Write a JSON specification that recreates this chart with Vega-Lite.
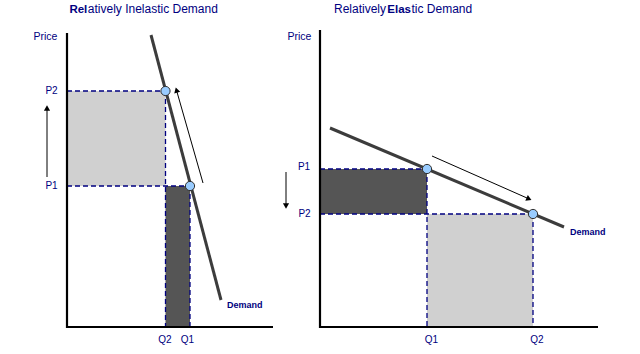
{
  "$schema": "https://vega.github.io/schema/vega-lite/v6.json",
  "width": 640,
  "height": 354,
  "autosize": {"type": "fit", "contains": "padding"},
  "padding": 0,
  "background": "white",
  "config": {"view": {"stroke": null}},
  "datasets": {
    "areas": [
      {"panel": "inelastic", "tone": "light", "x": 67, "x2": 165.5, "y": 168, "y2": 263},
      {"panel": "inelastic", "tone": "dark", "x": 165.5, "x2": 190, "y": 27, "y2": 168},
      {"panel": "elastic", "tone": "dark", "x": 320, "x2": 427, "y": 140, "y2": 185},
      {"panel": "elastic", "tone": "light", "x": 427, "x2": 533, "y": 27, "y2": 140}
    ],
    "segments": [
      {"kind": "dash", "x": 67, "y": 263, "x2": 165.5, "y2": 263},
      {"kind": "dash", "x": 165.5, "y": 263, "x2": 165.5, "y2": 27},
      {"kind": "dash", "x": 67, "y": 168, "x2": 190, "y2": 168},
      {"kind": "dash", "x": 190, "y": 168, "x2": 190, "y2": 27},
      {"kind": "dash", "x": 320, "y": 185, "x2": 427, "y2": 185},
      {"kind": "dash", "x": 427, "y": 185, "x2": 427, "y2": 27},
      {"kind": "dash", "x": 320, "y": 140, "x2": 533, "y2": 140},
      {"kind": "dash", "x": 533, "y": 140, "x2": 533, "y2": 27},
      {"kind": "axis", "x": 67, "y": 321, "x2": 67, "y2": 26},
      {"kind": "axis", "x": 66, "y": 27, "x2": 273, "y2": 27},
      {"kind": "axis", "x": 320, "y": 324, "x2": 320, "y2": 26},
      {"kind": "axis", "x": 319, "y": 27, "x2": 598, "y2": 27},
      {"kind": "demand", "x": 151, "y": 319, "x2": 221, "y2": 54},
      {"kind": "demand", "x": 330, "y": 226, "x2": 564, "y2": 127},
      {"kind": "arrow", "x": 47, "y": 177, "x2": 47, "y2": 244},
      {"kind": "arrow", "x": 203, "y": 171, "x2": 177, "y2": 262},
      {"kind": "arrow", "x": 286, "y": 182, "x2": 286, "y2": 150},
      {"kind": "arrow", "x": 432, "y": 198, "x2": 527, "y2": 156}
    ],
    "heads": [
      {"x": 47, "y": 246, "angle": 0},
      {"x": 176.5, "y": 264, "angle": 344},
      {"x": 286, "y": 148, "angle": 180},
      {"x": 529, "y": 155, "angle": 114}
    ],
    "equilibria": [
      {"panel": "inelastic", "label": "P2,Q2", "x": 165.5, "y": 263},
      {"panel": "inelastic", "label": "P1,Q1", "x": 190, "y": 168},
      {"panel": "elastic", "label": "P1,Q1", "x": 427, "y": 185},
      {"panel": "elastic", "label": "P2,Q2", "x": 533, "y": 140}
    ],
    "labels": [
      {"role": "axis", "text": "Price", "x": 45.5, "y": 317},
      {"role": "axis", "text": "Price", "x": 299.5, "y": 317},
      {"role": "tick", "text": "P2", "x": 51.5, "y": 263},
      {"role": "tick", "text": "P1", "x": 51.5, "y": 168},
      {"role": "tick", "text": "P1", "x": 304, "y": 187},
      {"role": "tick", "text": "P2", "x": 304.5, "y": 140},
      {"role": "tick", "text": "Q2", "x": 165, "y": 14},
      {"role": "tick", "text": "Q1", "x": 187.5, "y": 14},
      {"role": "tick", "text": "Q1", "x": 431.5, "y": 14},
      {"role": "tick", "text": "Q2", "x": 537, "y": 14},
      {"role": "demand", "text": "Demand", "x": 227, "y": 49},
      {"role": "demand", "text": "Demand", "x": 570, "y": 122},
      {"role": "titleBold", "text": "Rel", "x": 87.3, "y": 341},
      {"role": "title", "text": "atively Inelastic Demand", "x": 87.8, "y": 341},
      {"role": "title", "text": "Relatively", "x": 334, "y": 341},
      {"role": "titleBold", "text": "Elas", "x": 411, "y": 341},
      {"role": "title", "text": "tic Demand", "x": 411.5, "y": 341}
    ]
  },
  "encoding": {
    "x": {"field": "x", "type": "quantitative", "scale": {"domain": [0, 640], "nice": false, "zero": false}, "axis": null},
    "y": {"field": "y", "type": "quantitative", "scale": {"domain": [0, 354], "nice": false, "zero": false}, "axis": null}
  },
  "layer": [
    {
      "data": {"name": "areas"},
      "mark": {"type": "rect", "stroke": null},
      "encoding": {
        "x2": {"field": "x2"},
        "y2": {"field": "y2"},
        "color": {"field": "tone", "type": "nominal", "scale": {"domain": ["light", "dark"], "range": ["#d0d0d0", "#555555"]}, "legend": null}
      }
    },
    {
      "data": {"name": "segments"},
      "transform": [{"filter": "datum.kind === 'dash'"}],
      "mark": {"type": "rule", "color": "#000080", "strokeWidth": 1.3, "strokeDash": [5, 3]},
      "encoding": {"x2": {"field": "x2"}, "y2": {"field": "y2"}}
    },
    {
      "data": {"name": "segments"},
      "transform": [{"filter": "datum.kind === 'axis'"}],
      "mark": {"type": "rule", "color": "black", "strokeWidth": 2.2},
      "encoding": {"x2": {"field": "x2"}, "y2": {"field": "y2"}}
    },
    {
      "data": {"name": "segments"},
      "transform": [{"filter": "datum.kind === 'demand'"}],
      "mark": {"type": "rule", "color": "#3c3c3c", "strokeWidth": 3},
      "encoding": {"x2": {"field": "x2"}, "y2": {"field": "y2"}}
    },
    {
      "data": {"name": "segments"},
      "transform": [{"filter": "datum.kind === 'arrow'"}],
      "mark": {"type": "rule", "color": "black", "strokeWidth": 1},
      "encoding": {"x2": {"field": "x2"}, "y2": {"field": "y2"}}
    },
    {
      "data": {"name": "heads"},
      "mark": {"type": "point", "shape": "triangle-up", "filled": true, "color": "black", "size": 38, "opacity": 1},
      "encoding": {"angle": {"field": "angle", "type": "quantitative", "scale": null}}
    },
    {
      "data": {"name": "equilibria"},
      "mark": {"type": "point", "shape": "circle", "filled": true, "fill": "#99ccff", "stroke": "#303030", "strokeWidth": 1, "size": 85, "opacity": 1}
    },
    {
      "data": {"name": "labels"},
      "transform": [{"filter": "datum.role === 'axis'"}],
      "mark": {"type": "text", "font": "Liberation Sans", "fontSize": 10.5, "color": "#000080", "align": "center", "baseline": "middle"},
      "encoding": {"text": {"field": "text"}}
    },
    {
      "data": {"name": "labels"},
      "transform": [{"filter": "datum.role === 'tick'"}],
      "mark": {"type": "text", "font": "Liberation Sans", "fontSize": 10, "color": "#000080", "align": "center", "baseline": "middle"},
      "encoding": {"text": {"field": "text"}}
    },
    {
      "data": {"name": "labels"},
      "transform": [{"filter": "datum.role === 'demand'"}],
      "mark": {"type": "text", "font": "Liberation Sans", "fontSize": 9, "fontWeight": "bold", "color": "#000080", "align": "left", "baseline": "middle"},
      "encoding": {"text": {"field": "text"}}
    },
    {
      "data": {"name": "labels"},
      "transform": [{"filter": "datum.role === 'title'"}],
      "mark": {"type": "text", "font": "Liberation Sans", "fontSize": 12, "color": "#000080", "align": "left", "baseline": "alphabetic"},
      "encoding": {"text": {"field": "text"}}
    },
    {
      "data": {"name": "labels"},
      "transform": [{"filter": "datum.role === 'titleBold'"}],
      "mark": {"type": "text", "font": "Liberation Sans", "fontSize": 11.5, "fontWeight": "bold", "color": "#000080", "align": "right", "baseline": "alphabetic"},
      "encoding": {"text": {"field": "text"}}
    }
  ]
}
